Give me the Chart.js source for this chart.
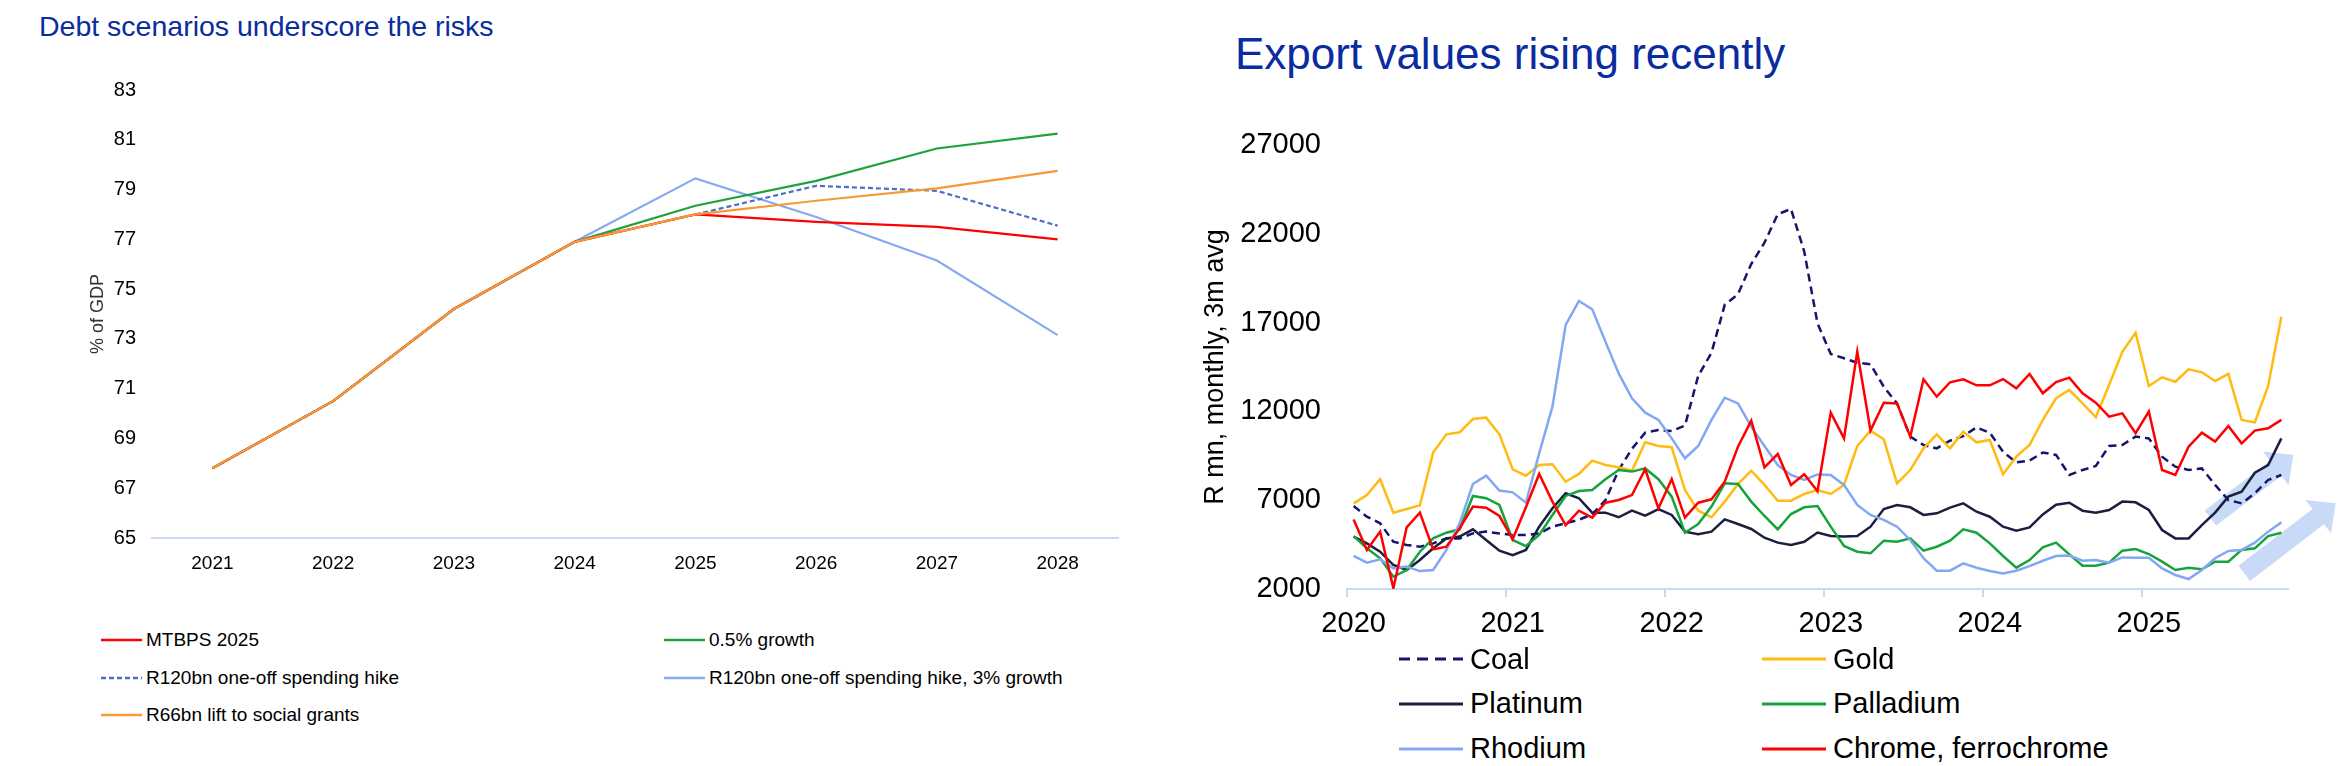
<!DOCTYPE html>
<html>
<head>
<meta charset="utf-8">
<script src="https://cdn.jsdelivr.net/npm/chart.js@4.4.1/dist/chart.umd.min.js"></script>
<style>
    html, body { margin: 0; padding: 0; background: #fff; }
    body { width: 2345px; height: 766px; position: relative; overflow: hidden; font-family: 'Liberation Sans', Arial, sans-serif; }
    .title { position: absolute; color: #0b2c9f; white-space: nowrap; line-height: 1; }
    #DebtTitle { left: 39px; top: 12px; font-size: 28.5px; }
    #ExportTitle { left: 1235px; top: 32px; font-size: 44px; }
    canvas { position: absolute; top: 0; }
    #DebtChart { left: 0; }
    #ExportChart { left: 1170px; }
    .legend-item { position: absolute; display: flex; align-items: center; white-space: nowrap; color: #000; }
    .legend-item svg { display: block; }
</style>
</head>
<body>
<div class="title" id="DebtTitle">Debt scenarios underscore the risks</div>
<div class="title" id="ExportTitle">Export values rising recently</div>
<canvas id="DebtChart" width="1140" height="600"></canvas>
<canvas id="ExportChart" width="1175" height="640"></canvas>
<script>
    // --- left chart: debt scenarios, % of GDP ---
    var debtYears = ['2021', '2022', '2023', '2024', '2025', '2026', '2027', '2028'];
    var mtbps2025 = [67.8, 70.5, 74.2, 76.9, 78.0, 77.7, 77.5, 77.0];
    var lowGrowth = [67.8, 70.5, 74.2, 76.9, 78.35, 79.35, 80.65, 81.25];
    var spendingHike = [67.8, 70.5, 74.2, 76.9, 78.0, 79.15, 78.95, 77.55];
    var spendingHikeGrowth = [67.8, 70.5, 74.2, 76.9, 79.45, 77.9, 76.15, 73.15];
    var socialGrants = [67.8, 70.5, 74.2, 76.9, 78.0, 78.55, 79.05, 79.75];

    // --- right chart: export values, R mn, monthly, 3m avg (Jan 2020 - Nov 2025) ---
    var exportYears = ['2020', '2021', '2022', '2023', '2024', '2025'];
    var coal = [6670, 6070, 5700, 4660, 4480, 4380, 4570, 4850, 4850, 5130, 5230, 5130, 5040, 5040, 5130, 5510, 5700, 5900, 6200, 7000, 8700, 9900, 10800, 10950, 10900, 11200, 14000, 15300, 18000, 18600, 20300, 21500, 23100, 23400, 21000, 16960, 15230, 14990, 14740, 14650, 13390, 12450, 10580, 10110, 9920, 10350, 10610, 11100, 10800, 9730, 9130, 9230, 9680, 9550, 8420, 8700, 8930, 10050, 10110, 10580, 10480, 9450, 8890, 8700, 8790, 7860, 7010, 6820, 7390, 8140, 8420];
    var gold = [6820, 7290, 8180, 6300, 6500, 6710, 9680, 10710, 10820, 11570, 11650, 10710, 8740, 8380, 8980, 9020, 8040, 8480, 9230, 8980, 8850, 8660, 10260, 10050, 9980, 7570, 6410, 6040, 6920, 7910, 8660, 7860, 6970, 6970, 7350, 7570, 7350, 7860, 10050, 10920, 10430, 7950, 8700, 9920, 10710, 9920, 10860, 10260, 10390, 8460, 9450, 10110, 11520, 12740, 13210, 12450, 11670, 13490, 15360, 16430, 13430, 13920, 13670, 14370, 14200, 13710, 14110, 11520, 11380, 13430, 17330];
    var platinum = [4950, 4570, 4100, 3350, 3070, 3630, 4290, 4850, 4950, 5360, 4760, 4160, 3910, 4200, 5510, 6540, 7390, 7110, 6300, 6300, 6040, 6410, 6130, 6500, 6170, 5230, 5080, 5230, 5920, 5660, 5380, 4890, 4610, 4480, 4660, 5180, 4980, 4950, 4980, 5510, 6500, 6730, 6600, 6170, 6260, 6580, 6820, 6350, 6070, 5510, 5280, 5470, 6200, 6750, 6860, 6410, 6300, 6450, 6920, 6880, 6450, 5320, 4850, 4850, 5600, 6300, 7200, 7480, 8550, 8980, 10480];
    var palladium = [4980, 4290, 3730, 2690, 3070, 4100, 4850, 5170, 5360, 7240, 7110, 6730, 4760, 4420, 5040, 6170, 7240, 7520, 7570, 8180, 8700, 8610, 8790, 8180, 7200, 5170, 5660, 6640, 7950, 7910, 6920, 6110, 5360, 6220, 6600, 6670, 5510, 4420, 4100, 4010, 4720, 4660, 4850, 4160, 4380, 4720, 5360, 5170, 4570, 3860, 3200, 3630, 4350, 4610, 3950, 3310, 3310, 3480, 4160, 4250, 3970, 3540, 3070, 3200, 3110, 3540, 3540, 4200, 4290, 4980, 5170];
    var rhodium = [3860, 3480, 3670, 3160, 3260, 3010, 3070, 4200, 5700, 7910, 8380, 7540, 7440, 6860, 9640, 12270, 16870, 18220, 17750, 15930, 14140, 12740, 11930, 11520, 10480, 9360, 10050, 11520, 12770, 12450, 11140, 10050, 8980, 8420, 8140, 8450, 8420, 7860, 6730, 6170, 5890, 5510, 4760, 3730, 3030, 3030, 3440, 3200, 3010, 2880, 3030, 3290, 3590, 3860, 3880, 3590, 3630, 3480, 3780, 3760, 3760, 3160, 2790, 2560, 3070, 3730, 4140, 4200, 4610, 5230, 5750];
    var chrome = [5920, 4200, 5230, 2040, 5470, 6300, 4230, 4380, 5420, 6640, 6580, 6110, 4800, 6600, 8480, 6920, 5600, 6410, 6020, 6860, 7010, 7290, 8740, 6540, 8190, 6020, 6860, 7050, 8040, 10010, 11480, 8850, 9600, 7860, 8460, 7500, 11930, 10480, 15360, 10920, 12490, 12450, 10580, 13810, 12830, 13640, 13810, 13470, 13470, 13820, 13300, 14110, 13020, 13650, 13900, 13020, 12490, 11700, 11890, 10770, 11990, 8700, 8420, 10010, 10800, 10300, 11180, 10200, 10920, 11050, 11520];

    // trend arrows, in data units: [month index, value]
    var trendArrows = [
        { from: [64.65, 6000], to: [70.9, 9550] },
        { from: [67.2, 2880], to: [74.1, 6830] }
    ];

    var fontFamily = "'Liberation Sans', Arial, sans-serif";
    var axisBlue = '#c9daf8';

    var monthLabels = [];
    exportYears.forEach(function (y) {
        for (var m = 1; m <= 12; m++) monthLabels.push(y + '-' + (m < 10 ? '0' + m : m));
    });
    monthLabels = monthLabels.slice(0, coal.length);

    var debtSeries = [
        { label: 'MTBPS 2025', data: mtbps2025, color: '#ff0000', dash: [], order: 1 },
        { label: '0.5% growth', data: lowGrowth, color: '#1ea23b', dash: [], order: 1 },
        { label: 'R120bn one-off spending hike', data: spendingHike, color: '#4a6fc4', dash: [5, 3], order: 1 },
        { label: 'R120bn one-off spending hike, 3% growth', data: spendingHikeGrowth, color: '#86a9f2', dash: [], order: 1 },
        { label: 'R66bn lift to social grants', data: socialGrants, color: '#f79a35', dash: [], order: 0 }
    ];

    var exportSeries = [
        { label: 'Coal', data: coal, color: '#14166e', dash: [8, 5] },
        { label: 'Gold', data: gold, color: '#ffbb10', dash: [] },
        { label: 'Platinum', data: platinum, color: '#1a1f40', dash: [] },
        { label: 'Palladium', data: palladium, color: '#15a33c', dash: [] },
        { label: 'Rhodium', data: rhodium, color: '#82a8f4', dash: [] },
        { label: 'Chrome, ferrochrome', data: chrome, color: '#ff0000', dash: [] }
    ];

    function drawArrow(ctx, x0, y0, x1, y1, shaft, headW, headL) {
        var len = Math.sqrt((x1 - x0) * (x1 - x0) + (y1 - y0) * (y1 - y0));
        var ux = (x1 - x0) / len, uy = (y1 - y0) / len;
        var nx = -uy, ny = ux;
        var bx = x1 - ux * headL, by = y1 - uy * headL;
        ctx.beginPath();
        ctx.moveTo(x0 + nx * shaft / 2, y0 + ny * shaft / 2);
        ctx.lineTo(bx + nx * shaft / 2, by + ny * shaft / 2);
        ctx.lineTo(bx + nx * headW / 2, by + ny * headW / 2);
        ctx.lineTo(x1, y1);
        ctx.lineTo(bx - nx * headW / 2, by - ny * headW / 2);
        ctx.lineTo(bx - nx * shaft / 2, by - ny * shaft / 2);
        ctx.lineTo(x0 - nx * shaft / 2, y0 - ny * shaft / 2);
        ctx.closePath();
        ctx.fill();
    }

    var arrowPlugin = {
        id: 'trendArrows',
        beforeDatasetsDraw: function (chart) {
            var xs = chart.scales.x, ys = chart.scales.y, ctx = chart.ctx;
            ctx.save();
            ctx.fillStyle = 'rgb(200, 218, 248)';
            trendArrows.forEach(function (a) {
                drawArrow(ctx,
                    xs.getPixelForValue(a.from[0]), ys.getPixelForValue(a.from[1]),
                    xs.getPixelForValue(a.to[0]), ys.getPixelForValue(a.to[1]),
                    19, 42, 22);
            });
            ctx.restore();
        }
    };

    function renderLegend(series, box) {
        series.forEach(function (s, i) {
            var col = i % 2, row = Math.floor(i / 2);
            var div = document.createElement('div');
            div.className = 'legend-item';
            div.style.left = box.x[col] + 'px';
            div.style.top = (box.y0 + row * box.dy - box.h / 2) + 'px';
            div.style.height = box.h + 'px';
            div.style.fontSize = box.font + 'px';
            var mid = box.h / 2;
            var dash = s.dash.length ? ' stroke-dasharray="' + box.dash.join(' ') + '"' : '';
            div.innerHTML = '<svg width="' + box.swatch + '" height="' + box.h + '" style="margin-right:' + box.gap + 'px">' +
                '<line x1="0" y1="' + mid + '" x2="' + box.swatch + '" y2="' + mid + '" stroke="' + s.color +
                '" stroke-width="' + box.lw + '"' + dash + '/></svg><span>' + s.label + '</span>';
            document.body.appendChild(div);
        });
    }

    new Chart(document.getElementById('DebtChart'), {
        type: 'line',
        data: {
            labels: debtYears,
            datasets: debtSeries.map(function (s) {
                return {
                    label: s.label, data: s.data, borderColor: s.color, borderWidth: 2.2,
                    borderDash: s.dash, pointRadius: 0, tension: 0, fill: false, order: s.order
                };
            })
        },
        options: {
            responsive: false, animation: false, devicePixelRatio: 1,
            layout: { padding: { left: 0, right: 22, top: 90, bottom: 0 } },
            plugins: { legend: { display: false }, tooltip: { enabled: false } },
            scales: {
                x: {
                    offset: true,
                    grid: { display: false, drawTicks: false },
                    border: { display: true, color: axisBlue, width: 2 },
                    ticks: { padding: 14, maxRotation: 0, color: '#000', font: { family: fontFamily, size: 19 } },
                    afterFit: function (scale) { scale.height = 62; }
                },
                y: {
                    min: 65, max: 83,
                    grid: { display: false, drawTicks: false },
                    border: { display: false },
                    ticks: { stepSize: 2, padding: 16, color: '#000', font: { family: fontFamily, size: 20 } },
                    title: { display: true, text: '% of GDP', color: '#333', font: { family: fontFamily, size: 18 }, padding: { top: 87, bottom: 0 } },
                    afterFit: function (scale) { scale.width = 152; }
                }
            }
        }
    });

    new Chart(document.getElementById('ExportChart'), {
        type: 'line',
        data: {
            labels: monthLabels,
            datasets: exportSeries.map(function (s, i) {
                return {
                    label: s.label, data: s.data, borderColor: s.color, borderWidth: 2.5,
                    borderDash: s.dash, pointRadius: 0, tension: 0, fill: false, order: exportSeries.length - i
                };
            })
        },
        options: {
            responsive: false, animation: false, devicePixelRatio: 1,
            layout: { padding: { left: 0, right: 57, top: 145, bottom: 0 } },
            plugins: { legend: { display: false }, tooltip: { enabled: false } },
            scales: {
                x: {
                    offset: true,
                    grid: {
                        display: true, offset: true, drawOnChartArea: false, drawTicks: true, tickLength: 8, lineWidth: 2,
                        color: function (c) { return c.index % 12 === 0 ? axisBlue : 'rgba(0,0,0,0)'; }
                    },
                    border: { display: true, color: axisBlue, width: 2 },
                    ticks: {
                        autoSkip: false, maxRotation: 0, minRotation: 0, padding: 10, color: '#000',
                        font: { family: fontFamily, size: 29 },
                        callback: function (v, i) { return i % 12 === 0 ? exportYears[i / 12] : ''; }
                    },
                    afterFit: function (scale) { scale.height = 51; }
                },
                y: {
                    min: 2000, max: 27000,
                    grid: { display: false, drawTicks: false },
                    border: { display: false },
                    ticks: {
                        stepSize: 5000, padding: 26, color: '#000', font: { family: fontFamily, size: 29 },
                        callback: function (v) { return String(v); }
                    },
                    title: { display: true, text: 'R mn, monthly, 3m avg', color: '#000', font: { family: fontFamily, size: 27 }, padding: { top: 29, bottom: 0 } },
                    afterFit: function (scale) { scale.width = 177; }
                }
            }
        },
        plugins: [arrowPlugin]
    });

    renderLegend(debtSeries, { x: [101, 664], y0: 640, dy: 37.5, h: 30, font: 19, swatch: 41, gap: 4, lw: 2.5, dash: [5, 3] });
    renderLegend(exportSeries, { x: [1399, 1762], y0: 659, dy: 44.8, h: 40, font: 29, swatch: 64, gap: 7, lw: 3, dash: [11, 7] });
</script>
</body>
</html>
